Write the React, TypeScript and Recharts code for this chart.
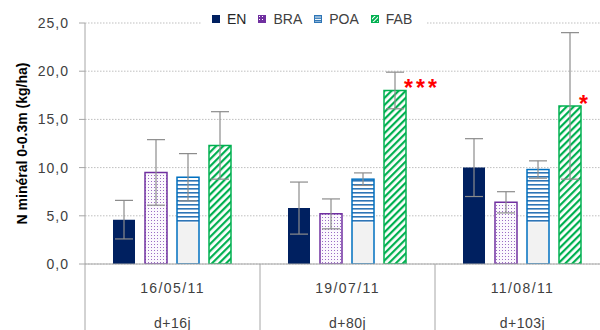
import React from 'react';
import { BarChart, Bar, XAxis, YAxis, CartesianGrid, ErrorBar, LabelList } from 'recharts';

const DATES = ['16/05/11', '19/07/11', '11/08/11'];
const DAYS = ['d+16j', 'd+80j', 'd+103j'];
const EN = [4.6, 5.8, 10.0];
const EN_ERR = [2.0, 2.7, 3.0];
const BRA = [9.5, 5.2, 6.4];
const BRA_ERR = [3.4, 1.55, 1.1];
const POA = [9.0, 8.8, 9.8];
const POA_ERR = [2.45, 0.65, 0.9];
const FAB = [12.3, 18.0, 16.4];
const FAB_ERR = [3.5, 1.9, 7.6];
const FAB_SIG = ['', '***', '*'];
const POA_BASE = 4.3;
const Y_TICKS = [0, 5, 10, 15, 20, 25];

const data = DATES.map((d, i) => ({
  date: d,
  days: DAYS[i],
  EN: EN[i], ENerr: EN_ERR[i],
  BRA: BRA[i], BRAerr: BRA_ERR[i],
  POA: POA[i], POAerr: POA_ERR[i],
  FAB: FAB[i], FABerr: FAB_ERR[i],
  sig: FAB_SIG[i],
}));

const CHART_W = 610;
const CHART_H = 330;
const YAXIS_W = 85;
const XAXIS_H = 66;
const BAND = (CHART_W - YAXIS_W) / DATES.length;
const FONT = '"Liberation Sans", Arial, sans-serif';
const TXT = '#404040';
const ERR = '#8c8c8c';

const XTick = (props: any) => {
  const { x, y, payload, index } = props;
  const row = data[index] || data.find((r) => r.date === payload.value);
  return (
    <g>
      <line x1={x - BAND / 2} x2={x - BAND / 2} y1={y} y2={y + XAXIS_H} stroke="#a6a6a6" strokeWidth={1} />
      <text x={x} y={y + 29} textAnchor="middle" fontSize={14} fill={TXT} fontFamily={FONT} letterSpacing={1.4}>
        {payload.value}
      </text>
      <text x={x} y={y + 64} textAnchor="middle" fontSize={14} fill={TXT} fontFamily={FONT} letterSpacing={0.5}>
        {row ? row.days : ''}
      </text>
    </g>
  );
};

const YLabel = (props: any) => {
  const vb = props.viewBox || { x: 0, y: 23, width: 85, height: 241 };
  const cx = vb.x + 22;
  const cy = vb.y + vb.height / 2;
  return (
    <text x={cx} y={cy} transform={`rotate(-90 ${cx} ${cy})`} textAnchor="middle" dominantBaseline="central"
      fontSize={14} fontWeight="bold" fill="#000" fontFamily={FONT}>
      N minéral 0-0.3m (kg/ha)
    </text>
  );
};

const PoaShape = (props: any) => {
  const { x, y, width, height, payload } = props;
  if (height == null || height <= 0) return null;
  const v = payload.POA;
  const baseH = (height * POA_BASE) / v;
  return (
    <g>
      <rect x={x} y={y} width={width} height={height} fill="url(#poaStripes)" />
      <rect x={x} y={y + height - baseH} width={width} height={baseH} fill="#f2f2f2" />
      <rect x={x} y={y} width={width} height={height} fill="none" stroke="#0070c0" strokeWidth={1.5} />
    </g>
  );
};

const SigLabel = (props: any) => {
  const { x, y, width, index } = props;
  const s = FAB_SIG[index];
  if (!s) return null;
  return (
    <text x={x + width / 2 + 9} y={y + 6} fill="#ff0000" fontSize={23} fontWeight="bold" fontFamily={FONT} letterSpacing={3}>
      {s}
    </text>
  );
};

const Swatch = ({ kind }: { kind: string }) => {
  const id = 'sw' + kind;
  return (
    <svg width={8} height={8} style={{ display: 'block' }}>
      <defs>
        <pattern id={id + 'BRA'} width={3} height={3} patternUnits="userSpaceOnUse">
          <rect width={3} height={3} fill="#7030a0" />
          <rect x={1} y={1} width={1} height={1} fill="#fff" />
        </pattern>
        <pattern id={id + 'POA'} width={8} height={2.5} patternUnits="userSpaceOnUse">
          <rect width={8} height={2.5} fill="#2e75b6" />
          <rect y={1.5} width={8} height={1} fill="#fff" />
        </pattern>
        <pattern id={id + 'FAB'} width={3} height={3} patternUnits="userSpaceOnUse" patternTransform="rotate(45)">
          <rect width={3} height={3} fill="#00b050" />
          <rect width={1} height={3} fill="#fff" />
        </pattern>
      </defs>
      {kind === 'EN' ? (
        <rect width={8} height={8} fill="#002060" />
      ) : (
        <rect x={0.5} y={0.5} width={7} height={7} fill={`url(#${id}${kind})`}
          stroke={kind === 'BRA' ? '#7030a0' : kind === 'POA' ? '#2e75b6' : '#00b050'} strokeWidth={1} />
      )}
    </svg>
  );
};

const LEGEND = ['EN', 'BRA', 'POA', 'FAB'];

export default function App() {
  return (
    <div style={{ position: 'absolute', left: 0, top: 0, width: 600, height: 330, overflow: 'hidden', background: '#fff' }}>
      <BarChart width={CHART_W} height={CHART_H} data={data} margin={{ top: 23, right: 0, bottom: 0, left: 0 }}
        barCategoryGap={28} barGap={10}>
        <defs>
          <pattern id="braDots" width={3} height={3} patternUnits="userSpaceOnUse">
            <rect width={3} height={3} fill="#fbf8fd" />
            <rect x={1} y={1} width={1} height={1} fill="#9b6cc4" />
          </pattern>
          <pattern id="poaStripes" width={10} height={4} patternUnits="userSpaceOnUse">
            <rect width={10} height={4} fill="#ffffff" />
            <rect y={0} width={10} height={1.6} fill="#2e75b6" />
          </pattern>
          <pattern id="fabStripes" width={5} height={5} patternUnits="userSpaceOnUse" patternTransform="rotate(45)">
            <rect width={5} height={5} fill="#ffffff" />
            <rect width={2.2} height={5} fill="#00b050" />
          </pattern>
        </defs>
        <CartesianGrid vertical={false} stroke="#bfbfbf" strokeDasharray="1.5 1.5" />
        <XAxis dataKey="date" height={XAXIS_H} tickLine={false} tickSize={0} tickMargin={0}
          axisLine={{ stroke: '#a6a6a6' }} tick={<XTick />} interval={0} />
        <YAxis width={YAXIS_W} domain={[0, 25]} ticks={Y_TICKS} tickSize={6} tickMargin={10}
          axisLine={{ stroke: '#a6a6a6' }} tickLine={{ stroke: '#a6a6a6' }}
          tick={{ fontSize: 14, fill: TXT, fontFamily: FONT, letterSpacing: 1 }}
          tickFormatter={(v: number) => v.toFixed(1).replace('.', ',')}
          label={<YLabel />} allowDataOverflow />
        <Bar dataKey="EN" fill="#002060" isAnimationActive={false}>
          <ErrorBar dataKey="ENerr" width={9} stroke={ERR} strokeWidth={1.2} />
        </Bar>
        <Bar dataKey="BRA" fill="url(#braDots)" stroke="#7030a0" strokeWidth={1.5} isAnimationActive={false}>
          <ErrorBar dataKey="BRAerr" width={9} stroke={ERR} strokeWidth={1.2} />
        </Bar>
        <Bar dataKey="POA" fill="url(#poaStripes)" shape={<PoaShape />} isAnimationActive={false}>
          <ErrorBar dataKey="POAerr" width={9} stroke={ERR} strokeWidth={1.2} />
        </Bar>
        <Bar dataKey="FAB" fill="url(#fabStripes)" stroke="#00b050" strokeWidth={1.5} isAnimationActive={false}>
          <ErrorBar dataKey="FABerr" width={9} stroke={ERR} strokeWidth={1.2} />
          <LabelList dataKey="sig" content={<SigLabel />} />
        </Bar>
      </BarChart>
      <div style={{ position: 'absolute', left: 202, top: 10, width: 224, height: 18, background: '#fff',
        display: 'flex', alignItems: 'center', fontFamily: FONT, fontSize: 14, color: TXT }}>
        {LEGEND.map((k, i) => (
          <div key={k} style={{ display: 'flex', alignItems: 'center', marginLeft: i === 0 ? 10 : 12 }}>
            <Swatch kind={k} />
            <span style={{ marginLeft: 7, color: k === 'EN' ? '#262626' : TXT }}>{k}</span>
          </div>
        ))}
      </div>
    </div>
  );
}
